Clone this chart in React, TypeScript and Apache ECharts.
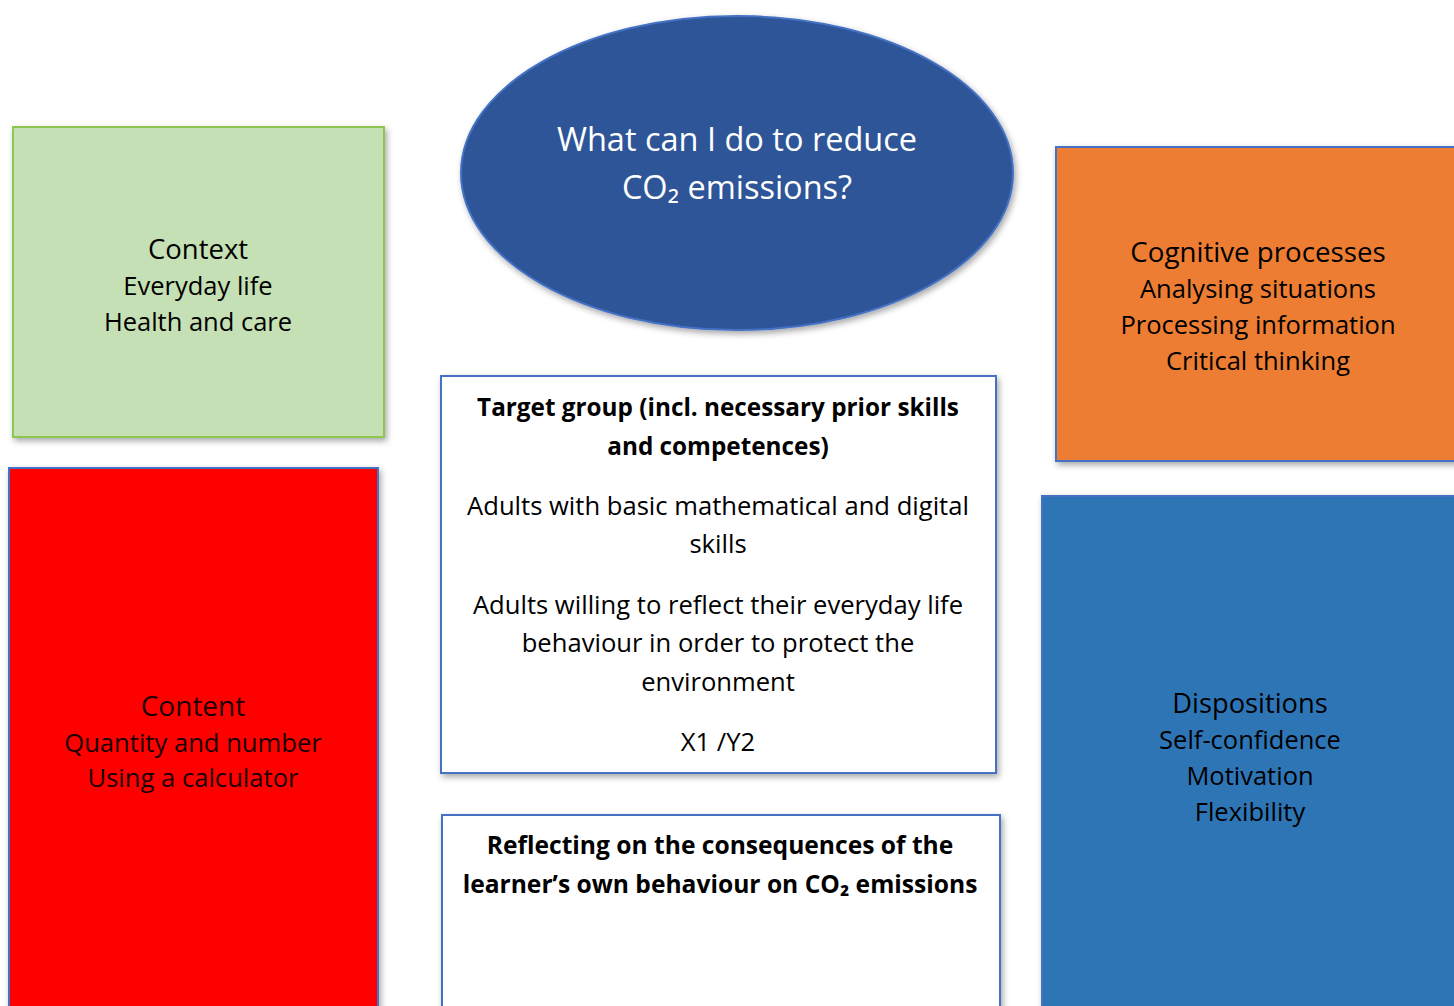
import React, { useEffect, useRef } from "react";
import * as echarts from "echarts";

// ---- Text content ----
const questionLines = ["What can I do to reduce", "CO₂ emissions?"];
const contextTitle = "Context";
const contextItems = ["Everyday life", "Health and care"];
const cognitiveTitle = "Cognitive processes";
const cognitiveItems = ["Analysing situations", "Processing information", "Critical thinking"];
const contentTitle = "Content";
const contentItems = ["Quantity and number", "Using a calculator"];
const dispositionsTitle = "Dispositions";
const dispositionsItems = ["Self-confidence", "Motivation", "Flexibility"];
const targetTitleLines = ["Target group (incl. necessary prior skills", "and competences)"];
const targetPara1 = ["Adults with basic mathematical and digital", "skills"];
const targetPara2 = ["Adults willing to reflect their everyday life", "behaviour in order to protect the", "environment"];
const targetCode = ["X1 /Y2"];
const reflectLines = ["Reflecting on the consequences of the", "learner’s own behaviour on CO₂ emissions"];

const FONT = "'Open Sans', sans-serif";
const shadow = { shadowBlur: 6, shadowColor: "rgba(0,0,0,0.35)", shadowOffsetX: 2, shadowOffsetY: 3 };

function txt(text: string, x: number, y: number, size: number, color: string, bold = false): any {
  return {
    type: "text",
    style: {
      text,
      x,
      y,
      align: "center",
      verticalAlign: "middle",
      fontSize: size,
      fontFamily: FONT,
      fontWeight: bold ? "bold" : "normal",
      fill: color,
    },
    z: 10,
  };
}

function lines(arr: string[], x: number, y0: number, step: number, size: number, color: string, bold = false) {
  return arr.map((t, i) => txt(t, x, y0 + i * step, size, color, bold));
}

function box(x: number, y: number, w: number, h: number, fill: string, stroke: string) {
  return {
    type: "rect",
    shape: { x, y, width: w, height: h },
    style: { fill, stroke, lineWidth: 2, ...shadow },
    z: 1,
  };
}

export default function App() {
  const ref = useRef<HTMLDivElement>(null);
  useEffect(() => {
    if (!ref.current) return;
    const chart = echarts.init(ref.current, undefined, { renderer: "svg" });
    const elements: any[] = [
      // Context (green)
      box(13, 127, 371, 310, "#c5e0b4", "#8dc653"),
      txt(contextTitle, 198, 248, 27.5, "#000"),
      ...lines(contextItems, 198, 285, 36, 25.5, "#000"),
      // Ellipse
      {
        type: "ellipse",
        shape: { cx: 737, cy: 173, rx: 276, ry: 157 },
        style: { fill: "#2f5597", stroke: "#4472c4", lineWidth: 2, ...shadow },
        z: 1,
      },
      ...lines(questionLines, 737, 138, 48, 32.5, "#ffffff"),
      // Cognitive (orange)
      box(1056, 147, 410, 314, "#ed7d31", "#4472c4"),
      txt(cognitiveTitle, 1258, 251, 27.7, "#000"),
      ...lines(cognitiveItems, 1258, 288, 36, 25.5, "#000"),
      // Target group (white)
      box(441, 376, 555, 397, "#ffffff", "#4472c4"),
      ...lines(targetTitleLines, 718, 406, 39, 24.3, "#000", true),
      ...lines(targetPara1, 718, 505, 38.5, 25.6, "#000"),
      ...lines(targetPara2, 718, 604, 38.5, 25.6, "#000"),
      ...lines(targetCode, 718, 741, 38.5, 25.6, "#000"),
      // Content (red)
      box(9, 468, 369, 560, "#ff0000", "#4472c4"),
      txt(contentTitle, 193, 705, 28, "#1a0000"),
      ...lines(contentItems, 193, 742, 35, 25.6, "#1a0000"),
      // Dispositions (blue)
      box(1042, 496, 430, 540, "#2e75b6", "#4472c4"),
      txt(dispositionsTitle, 1250, 702, 27.3, "#000"),
      ...lines(dispositionsItems, 1250, 739, 36, 25.5, "#000"),
      // Reflecting (white)
      box(442, 815, 558, 230, "#ffffff", "#4472c4"),
      ...lines(reflectLines, 720, 844, 39, 24.6, "#000", true),
    ];
    chart.setOption({
      animation: false,
      backgroundColor: "#ffffff",
      graphic: { elements },
    });
    return () => chart.dispose();
  }, []);
  return (
    <div
      ref={ref}
      style={{ position: "fixed", left: 0, top: 0, width: 1454, height: 1006, background: "#fff" }}
    />
  );
}
